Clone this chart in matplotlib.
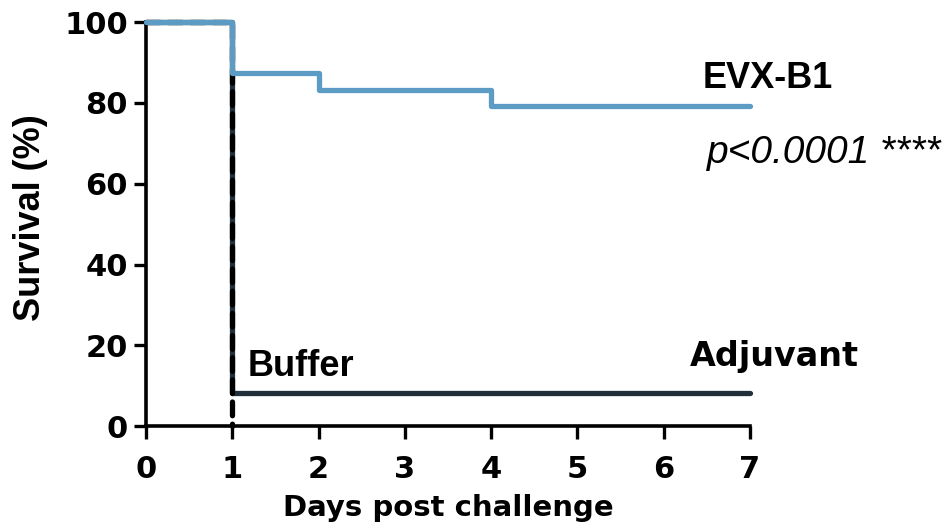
import matplotlib
matplotlib.use("Agg")
import matplotlib.pyplot as plt

# Kaplan-Meier steps (days, % survival)
evx_days = [0, 1, 1, 2, 2, 4, 4, 7]
evx_surv = [100, 100, 87.5, 87.5, 83.3, 83.3, 79.2, 79.2]
adj_days = [0, 1, 1, 7]
adj_surv = [100, 100, 8.3, 8.3]
buf_days = [0, 1, 1]
buf_surv = [100, 100, 0]

x_ticks = [0, 1, 2, 3, 4, 5, 6, 7]
y_ticks = [0, 20, 40, 60, 80, 100]

tick_font = ['DejaVu Sans']
lab_font = ['Liberation Sans', 'DejaVu Sans']

fig = plt.figure(figsize=(9.5, 5.28), dpi=100)
ax = fig.add_axes([0.1537, 0.193, 0.6358, 0.765])

ax.plot(adj_days, adj_surv, color='#22303c', lw=3.8, solid_capstyle='round', clip_on=False, zorder=3)
ax.plot(buf_days, buf_surv, color='black', lw=3.8, ls=(0, (2.6, 1.6)), dash_capstyle='round', clip_on=False, zorder=4)
ax.plot(evx_days, evx_surv, color='#5b9bc4', lw=3.8, solid_capstyle='round', clip_on=False, zorder=5)

ax.set_xlim(0, 7)
ax.set_ylim(0, 100)
ax.set_xticks(x_ticks)
ax.set_yticks(y_ticks)
for s in ['top', 'right']:
    ax.spines[s].set_visible(False)
for s in ['left', 'bottom']:
    ax.spines[s].set_linewidth(2.6)
ax.tick_params(width=2.4, length=9, labelsize=22)
ax.tick_params(axis='x', pad=12)
ax.tick_params(axis='y', pad=4)
for t in ax.get_xticklabels() + ax.get_yticklabels():
    t.set_family(tick_font)
    t.set_fontweight('bold')

ax.set_xlabel('Days post challenge', fontsize=21, fontweight='bold', family=tick_font, labelpad=7)
fig.text(31 / 950, 1 - 218 / 528, 'Survival (%)', rotation=90, ha='center', va='center',
         fontsize=26, fontweight='bold', family=lab_font)

ax.text(6.45, 83.6, 'EVX-B1', fontsize=26, fontweight='bold', family=lab_font, va='baseline')
ax.text(6.5, 65.1, 'p<0.0001 ****', fontsize=28, style='italic', family=lab_font, va='baseline')
ax.text(1.18, 12.4, 'Buffer', fontsize=26, fontweight='bold', family=lab_font, va='baseline')
ax.text(6.3, 14.9, 'Adjuvant', fontsize=24, fontweight='bold', family=tick_font, va='baseline')

fig.savefig('out.png', dpi=100)
